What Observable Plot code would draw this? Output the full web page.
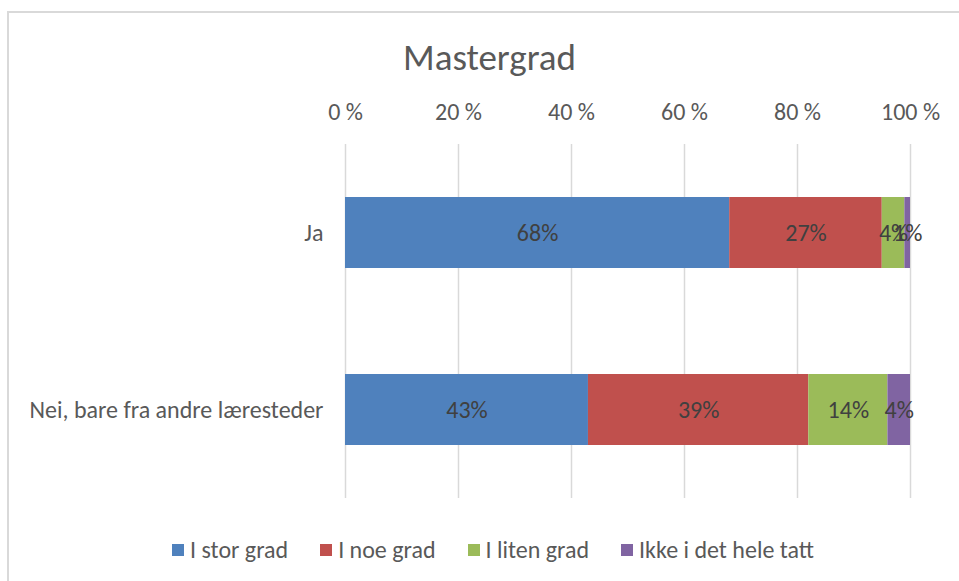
<!DOCTYPE html>
<html>
<head>
<meta charset="utf-8">
<script src="https://cdn.jsdelivr.net/npm/d3@7"></script>
<script src="https://cdn.jsdelivr.net/npm/@observablehq/plot@0.6"></script>
<style>
  body { margin: 0; background: #fff; font-family: Carlito, Lato, "Liberation Sans", sans-serif; }
  #wrap { position: relative; width: 959px; height: 581px; overflow: hidden; background: #fff; }
  #frame { position: absolute; left: 7px; top: 11px; width: 1000px; height: 1000px; border-left: 2px solid #d9d9d9; border-top: 2px solid #d9d9d9; }
  #title { position: absolute; left: 0; width: 979px; top: 35px; text-align: center; font-size: 37px; color: #595959; line-height: 46px; }
  #chart { position: absolute; left: 0; top: 90px; }
  #legend { position: absolute; left: 0; width: 986px; top: 535px; display: flex; justify-content: center; gap: 32px; font-size: 24px; color: #595959; line-height: 30px; }
  .item { display: flex; align-items: center; gap: 6px; }
  .sw { width: 12px; height: 12px; display: inline-block; }
</style>
</head>
<body>
<div id="wrap">
  <div id="frame"></div>
  <div id="title">Mastergrad</div>
  <div id="chart"></div>
  <div id="legend"></div>
</div>
<script>
const categories = ["Ja", "Nei, bare fra andre læresteder"];
const series = ["I stor grad", "I noe grad", "I liten grad", "Ikke i det hele tatt"];
const jaValues = [68, 27, 4, 1];
const neiValues = [43, 39, 14, 4];
const colors = ["#4f81bd", "#c0504d", "#9bbb59", "#8064a2"];
const tickValues = [0, 20, 40, 60, 80, 100];

const rows = [];
[jaValues, neiValues].forEach((vals, i) => {
  vals.forEach((v, j) => rows.push({cat: categories[i], series: series[j], value: v}));
});

const chart = Plot.plot({
  width: 959,
  height: 420,
  marginTop: 54,
  marginBottom: 12,
  marginLeft: 345,
  marginRight: 49,
  style: {fontFamily: "Carlito, Lato, 'Liberation Sans', sans-serif", fontSize: "24px", color: "#595959", background: "transparent"},
  x: {domain: [0, 100]},
  y: {domain: categories, paddingInner: 0.6, paddingOuter: 0.3},
  color: {domain: series, range: colors},
  marks: [
    Plot.ruleX(tickValues, {stroke: "#d9d9d9", strokeWidth: 1.5}),
    Plot.axisX({anchor: "top", ticks: tickValues, tickFormat: d => d + " %", tickSize: 0, tickPadding: 25, fontSize: 24, label: null}),
    Plot.axisY({tickSize: 0, tickPadding: 22, fontSize: 24, label: null}),
    Plot.barX(rows, Plot.stackX({x: "value", y: "cat", fill: "series"})),
    Plot.textX(rows, Plot.stackX({x: "value", y: "cat", z: "series", text: d => d.value + "%", fill: "#404040", fontSize: 24}))
  ]
});
document.getElementById("chart").appendChild(chart);

const legend = document.getElementById("legend");
series.forEach((s, i) => {
  const it = document.createElement("div");
  it.className = "item";
  const sw = document.createElement("span");
  sw.className = "sw";
  sw.style.background = colors[i];
  const t = document.createElement("span");
  t.textContent = s;
  it.appendChild(sw);
  it.appendChild(t);
  legend.appendChild(it);
});
</script>
</body>
</html>
